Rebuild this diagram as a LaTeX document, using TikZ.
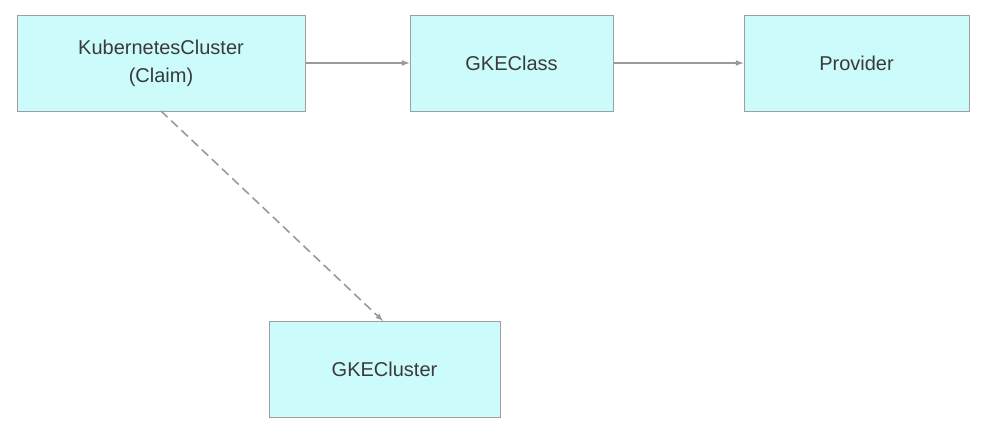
\documentclass[tikz,border=0pt]{standalone}
\usepackage{fontspec}
\setmainfont{Liberation Sans}
\definecolor{boxfill}{HTML}{CCFBFC}
\definecolor{boxline}{HTML}{9E9E9E}
\definecolor{linkcol}{HTML}{9A9A9A}
\definecolor{txtcol}{HTML}{3A3A3A}
\begin{document}
\begin{tikzpicture}[x=1pt,y=-1pt,>=latex,
  box/.style={draw=boxline,fill=boxfill,line width=1pt,text=txtcol,align=center,
    font=\fontsize{20}{28}\selectfont,inner sep=0pt},
  link/.style={->,draw=linkcol,line width=1.6pt}]
\useasboundingbox (0,0) rectangle (982,429);
\node[box,minimum width=288pt,minimum height=96pt] (claim) at (161,63) {KubernetesCluster\\(Claim)};
\node[box,minimum width=203pt,minimum height=96pt] (gkeclass) at (511.5,63) {GKEClass};
\node[box,minimum width=225pt,minimum height=96pt] (provider) at (856.5,63) {Provider};
\node[box,minimum width=231pt,minimum height=96pt] (gkecluster) at (384.5,369) {GKECluster};
\draw[link] (claim.east) -- (gkeclass.west);
\draw[link] (gkeclass.east) -- (provider.west);
\draw[link,dash pattern=on 9pt off 5pt] (161,111) -- (383,321);
\end{tikzpicture}
\end{document}
